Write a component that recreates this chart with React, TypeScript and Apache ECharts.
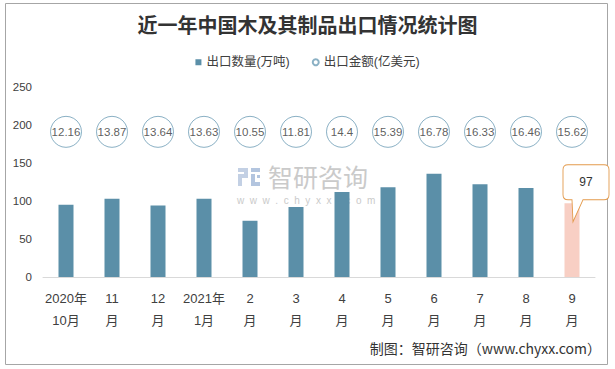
import React, { useEffect, useRef } from "react";
import * as echarts from "echarts";

const categories = [
  "2020年\n10月", "11\n月", "12\n月", "2021年\n1月", "2\n月", "3\n月",
  "4\n月", "5\n月", "6\n月", "7\n月", "8\n月", "9\n月",
];
const exportQty = [95, 103, 94, 103, 74, 92, 112, 118, 136, 122, 117, 97];
const exportAmount = [12.16, 13.87, 13.64, 13.63, 10.55, 11.81, 14.4, 15.39, 16.78, 16.33, 16.46, 15.62];
const amountRowLevel = [191, 191, 191, 191, 191, 191, 191, 191, 191, 191, 191, 191];
const yTicks = { min: 0, max: 250, interval: 50 };

const FONT = "'Liberation Sans', 'Noto Sans CJK SC', sans-serif";
const BAR = "#5b8fa8";
const CIRCLE = "#6d9cb5";

export default function App() {
  const ref = useRef<HTMLDivElement>(null);
  useEffect(() => {
    if (!ref.current) return;
    const chart = echarts.init(ref.current, null, { renderer: "svg" });
    const last = exportQty.length - 1;
    const calloutPath =
      "path://M5,0 L41,0 Q46,0 46,5 L46,30 Q46,35 41,35 L20,35 L10,57 L9,35 L5,35 Q0,35 0,30 L0,5 Q0,0 5,0 Z";
    chart.setOption({
      animation: false,
      backgroundColor: "#ffffff",
      textStyle: { fontFamily: FONT },
      title: {
        text: "近一年中国木及其制品出口情况统计图",
        left: "center",
        top: 9,
        textStyle: { fontSize: 20, fontWeight: "bold", color: "#333333", fontFamily: "'Noto Sans CJK SC', serif" },
      },
      legend: {
        top: 51,
        left: "center",
        itemWidth: 6,
        itemHeight: 6,
        itemGap: 22,
        textStyle: { fontSize: 12.5, color: "#404040", fontFamily: FONT },
        data: [
          { name: "出口数量(万吨)", icon: "rect" },
          { name: "出口金额(亿美元)", icon: "circle" },
        ],
      },
      grid: { left: 43, right: 20, top: 87, bottom: 92 },
      xAxis: {
        type: "category",
        data: categories,
        axisLine: { lineStyle: { color: "#d9d9d9" } },
        axisTick: { show: false },
        axisLabel: { fontSize: 13, color: "#404040", lineHeight: 22, margin: 10, interval: 0 },
      },
      yAxis: {
        type: "value",
        min: yTicks.min,
        max: yTicks.max,
        interval: yTicks.interval,
        axisLine: { show: false },
        axisTick: { show: false },
        splitLine: { show: false },
        axisLabel: { fontSize: 11.5, color: "#404040", margin: 11 },
      },
      graphic: [
        {
          type: "rect",
          shape: { x: 5.5, y: 3.5, width: 602, height: 361 },
          style: { fill: "none", stroke: "#a6a6a6", lineWidth: 1 },
          silent: true,
          z: -10,
        },
        {
          type: "group",
          z: -5,
          silent: true,
          children: [
            { type: "rect", shape: { x: 238, y: 168, width: 10, height: 4 }, style: { fill: "#c3d0e4" } },
            { type: "rect", shape: { x: 244, y: 168, width: 4, height: 10 }, style: { fill: "#c3d0e4" } },
            { type: "rect", shape: { x: 238, y: 174, width: 10, height: 4 }, style: { fill: "#c3d0e4" } },
            { type: "rect", shape: { x: 238, y: 174, width: 4, height: 12 }, style: { fill: "#c3d0e4" } },
            { type: "rect", shape: { x: 251, y: 168, width: 9, height: 4 }, style: { fill: "#b3c5df" } },
            { type: "rect", shape: { x: 251, y: 174, width: 4, height: 12 }, style: { fill: "#b3c5df" } },
            { type: "rect", shape: { x: 251, y: 182, width: 9, height: 4 }, style: { fill: "#b3c5df" } },
            { type: "rect", shape: { x: 257, y: 175, width: 3, height: 3 }, style: { fill: "#b3c5df" } },
            {
              type: "text",
              x: 268,
              y: 163,
              style: {
                text: "智研咨询",
                fontSize: 25,
                lineHeight: 25,
                fill: "#cacaca",
                fontFamily: "'Noto Sans CJK SC', sans-serif",
              },
            },
            {
              type: "text",
              x: 237,
              y: 195,
              style: {
                text: "w  w  w  .  c  h  y  x  x  .  c  o  m",
                fontSize: 10,
                lineHeight: 10,
                fill: "#cacaca",
                fontFamily: FONT,
              },
            },
          ],
        },
        {
          type: "text",
          right: 14,
          top: 341,
          style: {
            text: "制图：智研咨询（www.chyxx.com）",
            fontSize: 14,
            fill: "#333333",
            fontFamily: "'Noto Sans CJK SC', sans-serif",
          },
        },
      ],
      series: [
        {
          name: "出口数量(万吨)",
          type: "bar",
          barWidth: 15,
          itemStyle: { color: BAR },
          data: exportQty.map((v, i) =>
            i === last ? { value: v, itemStyle: { color: "#f8cfc4" } } : v
          ),
          markPoint: {
            symbol: calloutPath,
            symbolSize: [46, 57],
            symbolOffset: [14, -10],
            itemStyle: { color: "#ffffff", borderColor: "#e39a4c", borderWidth: 1 },
            label: {
              show: true,
              position: "inside",
              offset: [0, -11],
              color: "#333333",
              fontSize: 12,
              formatter: (p: any) => String(p.value),
            },
            data: [{ coord: [last, exportQty[last]], value: exportQty[last] }],
          },
        },
        {
          name: "出口金额(亿美元)",
          type: "scatter",
          symbol: "circle",
          symbolSize: 31,
          itemStyle: { color: "#ffffff", borderColor: CIRCLE, borderWidth: 1 },
          label: {
            show: true,
            position: "inside",
            color: "#333333",
            fontSize: 11.5,
            formatter: (p: any) => String(exportAmount[p.dataIndex]),
          },
          data: amountRowLevel,
          z: 3,
        },
      ],
    });
    return () => chart.dispose();
  }, []);
  return (
    <div
      ref={ref}
      style={{ position: "absolute", left: 0, top: 0, width: 615, height: 369, background: "#fff" }}
    />
  );
}
